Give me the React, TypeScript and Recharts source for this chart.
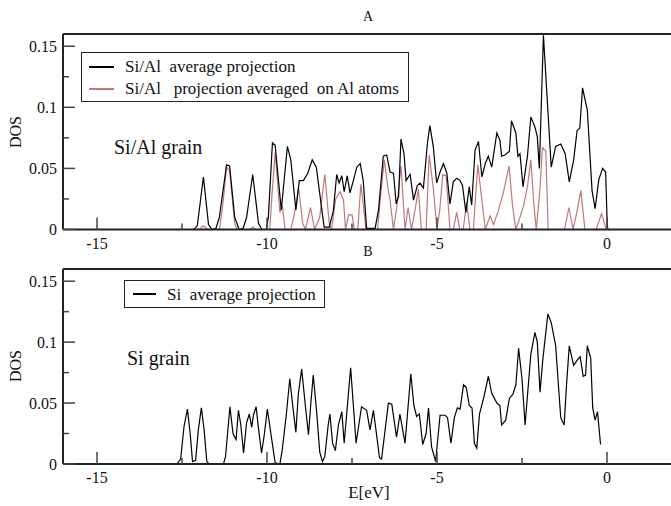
import React from 'react';
import { LineChart, Line, XAxis, YAxis } from 'recharts';

const FONT = '"Liberation Serif", "Times New Roman", serif';
const TICK = '#444';
const FRAME = '#222';
const RED = '#c07878';

const xDomain = [-16, 2];
const yDomain = [0, 0.16];
const xTicks = [-15, -12.5, -10, -7.5, -5, -2.5, 0];
const xLabels = ['-15', '', '-10', '', '-5', '', '0'];
const yTicks = [0, 0.025, 0.05, 0.075, 0.1, 0.125, 0.15];
const yLabels = ['0', '', '0.05', '', '0.1', '', '0.15'];

// [E (eV), DOS]
const siAlAverage: [number, number][] = [
  [-16, 0], [-12.15, 0], [-12.05, 0.003], [-11.87, 0.043], [-11.72, 0.004], [-11.62, 0],
  [-11.5, 0.001], [-11.4, 0.01], [-11.19, 0.053], [-11.1, 0.052], [-10.95, 0.01], [-10.82, 0],
  [-10.7, 0.001], [-10.6, 0.01], [-10.42, 0.045], [-10.25, 0.005], [-10.15, 0], [-10.02, 0],
  [-9.96, 0.01], [-9.84, 0.071], [-9.76, 0.069], [-9.58, 0.016], [-9.4, 0.068], [-9.3, 0.057],
  [-9.15, 0.016], [-9.05, 0.04], [-8.93, 0.04], [-8.8, 0.046], [-8.67, 0.057], [-8.55, 0.051],
  [-8.32, 0.002], [-8.17, 0.002], [-8.05, 0.015], [-7.95, 0.045], [-7.88, 0.038], [-7.8, 0.044],
  [-7.73, 0.031], [-7.64, 0.044], [-7.56, 0.03], [-7.46, 0.04], [-7.36, 0.051], [-7.26, 0.054],
  [-7.17, 0.04], [-7.07, 0.001], [-6.82, 0.001], [-6.72, 0.016], [-6.58, 0.06], [-6.48, 0.061],
  [-6.38, 0.047], [-6.28, 0.046], [-6.2, 0.021], [-6.13, 0.027], [-6.06, 0.074], [-5.97, 0.062],
  [-5.91, 0.04], [-5.79, 0.045], [-5.69, 0.024], [-5.58, 0.036], [-5.5, 0.038], [-5.4, 0.034],
  [-5.28, 0.071], [-5.21, 0.085], [-5.11, 0.068], [-5.01, 0.038], [-4.91, 0.047], [-4.81, 0.054],
  [-4.71, 0.046], [-4.62, 0.021], [-4.52, 0.039], [-4.42, 0.042], [-4.32, 0.04], [-4.25, 0.036],
  [-4.15, 0.014], [-4.05, 0.035], [-3.98, 0.02], [-3.88, 0.065], [-3.78, 0.072], [-3.68, 0.043],
  [-3.58, 0.054], [-3.49, 0.06], [-3.39, 0.051], [-3.24, 0.079], [-3.15, 0.073], [-3.1, 0.06],
  [-3.0, 0.061], [-2.87, 0.064], [-2.81, 0.089], [-2.68, 0.079], [-2.62, 0.06], [-2.56, 0.062],
  [-2.47, 0.035], [-2.34, 0.06], [-2.24, 0.092], [-2.12, 0.084], [-2.05, 0.076], [-1.99, 0.05],
  [-1.87, 0.159], [-1.74, 0.098], [-1.64, 0.051], [-1.51, 0.068], [-1.36, 0.07], [-1.23, 0.062],
  [-1.11, 0.039], [-0.98, 0.057], [-0.88, 0.081], [-0.8, 0.083], [-0.72, 0.116], [-0.58, 0.098],
  [-0.44, 0.032], [-0.35, 0.017], [-0.24, 0.041], [-0.13, 0.05], [-0.04, 0.047], [0.0, 0.01],
  [0.02, 0],
];

const alAtoms: [number, number][] = [
  [-16, 0], [-12.0, 0], [-11.87, 0.003], [-11.75, 0], [-11.4, 0], [-11.3, 0.02], [-11.19, 0.051],
  [-11.1, 0.048], [-10.95, 0.005], [-10.88, 0], [-10.5, 0], [-10.42, 0.002], [-10.33, 0],
  [-9.92, 0], [-9.85, 0.03], [-9.76, 0.063], [-9.62, 0.014], [-9.55, 0.02], [-9.47, 0], [-9.3, 0],
  [-9.2, 0.012], [-9.07, 0.034], [-8.95, 0.005], [-8.87, 0], [-8.72, 0.018], [-8.6, 0],
  [-8.45, 0.01], [-8.3, 0.045], [-8.17, 0.005], [-8.1, 0], [-7.98, 0.025], [-7.85, 0.031],
  [-7.75, 0.024], [-7.69, 0], [-7.6, 0.012], [-7.5, 0.012], [-7.43, 0], [-7.33, 0], [-7.24, 0.037],
  [-7.17, 0.021], [-7.09, 0], [-6.75, 0], [-6.65, 0.03], [-6.55, 0.057], [-6.45, 0.035],
  [-6.38, 0.024], [-6.28, 0], [-6.18, 0.019], [-6.06, 0.052], [-5.94, 0], [-5.85, 0.018],
  [-5.75, 0], [-5.65, 0.015], [-5.55, 0.033], [-5.46, 0], [-5.32, 0], [-5.23, 0.061],
  [-5.11, 0.034], [-5.0, 0], [-4.92, 0.016], [-4.83, 0.045], [-4.73, 0.044], [-4.62, 0],
  [-4.52, 0], [-4.42, 0.014], [-4.33, 0], [-4.23, 0], [-4.13, 0.022], [-4.03, 0], [-3.93, 0],
  [-3.8, 0.053], [-3.68, 0.024], [-3.58, 0], [-3.44, 0.011], [-3.34, 0.004], [-3.2, 0.015],
  [-3.05, 0.03], [-2.88, 0.052], [-2.78, 0.02], [-2.68, 0], [-2.56, 0.01], [-2.45, 0.02],
  [-2.34, 0.035], [-2.24, 0.057], [-2.15, 0.02], [-2.08, 0], [-1.98, 0.03], [-1.9, 0.067],
  [-1.8, 0.064], [-1.73, 0], [-1.25, 0], [-1.12, 0.018], [-1.0, 0], [-0.88, 0.015],
  [-0.77, 0.032], [-0.65, 0], [-0.32, 0], [-0.16, 0.013], [-0.02, 0],
];

const siAverage: [number, number][] = [
  [-16, 0], [-12.65, 0], [-12.54, 0.004], [-12.44, 0.031], [-12.34, 0.045], [-12.26, 0.025],
  [-12.19, 0.002], [-12.1, 0.003], [-12.02, 0.028], [-11.93, 0.046], [-11.85, 0.028],
  [-11.77, 0.002], [-11.7, 0], [-11.28, 0], [-11.22, 0.006], [-11.09, 0.047], [-11.0, 0.025],
  [-10.91, 0.02], [-10.84, 0.044], [-10.77, 0.032], [-10.69, 0.009], [-10.6, 0.034],
  [-10.52, 0.041], [-10.45, 0.03], [-10.4, 0.04], [-10.32, 0.047], [-10.25, 0.029],
  [-10.16, 0.009], [-10.08, 0.024], [-9.99, 0.045], [-9.86, 0.02], [-9.76, 0.001], [-9.62, 0],
  [-9.55, 0.012], [-9.43, 0.041], [-9.33, 0.07], [-9.24, 0.047], [-9.15, 0.026], [-9.08, 0.057],
  [-8.98, 0.078], [-8.88, 0.05], [-8.78, 0.024], [-8.71, 0.05], [-8.64, 0.073], [-8.54, 0.043],
  [-8.45, 0.01], [-8.37, 0.002], [-8.3, 0.006], [-8.2, 0.032], [-8.15, 0.041], [-8.07, 0.017],
  [-7.99, 0.011], [-7.9, 0.032], [-7.8, 0.043], [-7.73, 0.017], [-7.54, 0.079], [-7.38, 0.017],
  [-7.22, 0.047], [-7.07, 0.044], [-6.97, 0.028], [-6.87, 0.044], [-6.69, 0.005], [-6.63, 0.004],
  [-6.43, 0.05], [-6.33, 0.049], [-6.19, 0.022], [-6.09, 0.041], [-5.94, 0.017], [-5.77, 0.074],
  [-5.68, 0.048], [-5.6, 0.039], [-5.52, 0.041], [-5.42, 0.016], [-5.32, 0.025], [-5.25, 0.046],
  [-5.16, 0.014], [-5.04, 0.002], [-4.91, 0.04], [-4.76, 0.04], [-4.69, 0.038], [-4.59, 0.017],
  [-4.49, 0.038], [-4.4, 0.046], [-4.32, 0.045], [-4.22, 0.065], [-4.14, 0.063], [-4.05, 0.048],
  [-3.97, 0.046], [-3.9, 0.017], [-3.83, 0.013], [-3.75, 0.041], [-3.62, 0.055], [-3.49, 0.072],
  [-3.39, 0.058], [-3.24, 0.05], [-3.15, 0.048], [-3.1, 0.032], [-2.98, 0.036], [-2.87, 0.054],
  [-2.77, 0.057], [-2.68, 0.065], [-2.6, 0.095], [-2.5, 0.07], [-2.41, 0.032], [-2.24, 0.09],
  [-2.12, 0.108], [-2.05, 0.1], [-1.97, 0.059], [-1.89, 0.085], [-1.74, 0.123], [-1.64, 0.116],
  [-1.51, 0.097], [-1.43, 0.065], [-1.36, 0.038], [-1.26, 0.032], [-1.19, 0.065], [-1.11, 0.097],
  [-0.98, 0.081], [-0.88, 0.085], [-0.79, 0.088], [-0.7, 0.072], [-0.63, 0.073], [-0.58, 0.097],
  [-0.48, 0.087], [-0.42, 0.046], [-0.35, 0.036], [-0.28, 0.043], [-0.19, 0.016],
];

const toRows = (pts: [number, number][]) => pts.map(([e, dos]) => ({ e, dos }));

const label = (arr: string[], ticks: number[], v: number) => arr[ticks.indexOf(v)] || '';

const BottomTick = (p: any) => {
  const t = label(xLabels, xTicks, p.payload.value);
  const len = t ? 12 : 6;
  return (
    <g>
      <line x1={p.x} x2={p.x} y1={p.y} y2={p.y - len} stroke={TICK} strokeWidth={1.5} />
      {t && (
        <text x={p.x} y={p.y + 19} textAnchor="middle" fontFamily="Liberation Serif" fontSize={16} fill="#111">
          {t}
        </text>
      )}
    </g>
  );
};

const TopTick = (p: any) => {
  const len = label(xLabels, xTicks, p.payload.value) ? 12 : 6;
  return <line x1={p.x} x2={p.x} y1={p.y} y2={p.y + len} stroke={TICK} strokeWidth={1.5} />;
};

const LeftTick = (p: any) => {
  const t = label(yLabels, yTicks, p.payload.value);
  const len = t ? 12 : 6;
  return (
    <g>
      <line x1={p.x} x2={p.x + len} y1={p.y} y2={p.y} stroke={TICK} strokeWidth={1.5} />
      {t && (
        <text x={p.x - 6} y={p.y + 5.5} textAnchor="end" fontFamily="Liberation Serif" fontSize={16} fill="#111">
          {t}
        </text>
      )}
    </g>
  );
};

const RightTick = (p: any) => {
  const len = label(yLabels, yTicks, p.payload.value) ? 12 : 6;
  return <line x1={p.x} x2={p.x - len} y1={p.y} y2={p.y} stroke={TICK} strokeWidth={1.5} />;
};

const axisLine = { stroke: FRAME, strokeWidth: 2 };

// axes need a non-zero size or recharts skips drawing them
function Frame() {
  return [
    <XAxis key="xb" xAxisId={0} type="number" dataKey="e" domain={xDomain} ticks={xTicks} interval={0}
      height={1} tickSize={0} tickMargin={0} tickLine={false} axisLine={axisLine} tick={BottomTick} />,
    <XAxis key="xt" xAxisId="top" orientation="top" type="number" dataKey="e" domain={xDomain} ticks={xTicks}
      interval={0} height={1} tickSize={0} tickMargin={0} tickLine={false} axisLine={axisLine} tick={TopTick} />,
    <YAxis key="yl" yAxisId={0} type="number" domain={yDomain} ticks={yTicks} interval={0} width={1}
      tickSize={0} tickMargin={0} tickLine={false} axisLine={axisLine} tick={LeftTick} />,
    <YAxis key="yr" yAxisId="right" orientation="right" type="number" domain={yDomain} ticks={yTicks}
      interval={0} width={1} tickSize={0} tickMargin={0} tickLine={false} axisLine={axisLine} tick={RightTick} />,
  ];
}

const txt = (extra: React.CSSProperties): React.CSSProperties => ({
  position: 'absolute',
  fontFamily: FONT,
  color: '#111',
  whiteSpace: 'nowrap',
  lineHeight: 1,
  ...extra,
});

export default function App() {
  return (
    <div style={{ position: 'absolute', left: 0, top: 0, width: 671, height: 506, overflow: 'hidden', background: '#fff', fontFamily: FONT }}>
      <div style={{ position: 'absolute', left: 0, top: 0 }}>
        <LineChart width={680} height={260} margin={{ top: 33, right: 4, bottom: 29.5, left: 62 }}>
          {Frame()}
          <Line data={toRows(alAtoms)} dataKey="dos" type="linear" stroke={RED} strokeWidth={1.2}
            dot={false} isAnimationActive={false} />
          <Line data={toRows(siAlAverage)} dataKey="dos" type="linear" stroke="#000" strokeWidth={1.2}
            dot={false} isAnimationActive={false} />
        </LineChart>
      </div>
      <div style={{ position: 'absolute', left: 0, top: 245 }}>
        <LineChart width={680} height={261} margin={{ top: 23, right: 4, bottom: 41, left: 62 }}>
          {Frame()}
          <Line data={toRows(siAverage)} dataKey="dos" type="linear" stroke="#000" strokeWidth={1.2}
            dot={false} isAnimationActive={false} />
        </LineChart>
      </div>

      <div style={txt({ left: 368, top: 10, fontSize: 14, transform: 'translateX(-50%)' })}>A</div>
      <div style={txt({ left: 368, top: 245, fontSize: 14, transform: 'translateX(-50%)' })}>B</div>
      <div style={txt({ left: 369, top: 484, fontSize: 17, transform: 'translateX(-50%)' })}>E[eV]</div>
      <div style={txt({ left: 16, top: 132, fontSize: 16, transform: 'translate(-50%, -50%) rotate(-90deg)' })}>DOS</div>
      <div style={txt({ left: 16, top: 366, fontSize: 16, transform: 'translate(-50%, -50%) rotate(-90deg)' })}>DOS</div>

      <div style={txt({ left: 114, top: 137, fontSize: 20 })}>Si/Al grain</div>
      <div style={txt({ left: 127, top: 348, fontSize: 20 })}>Si grain</div>

      <div style={{ position: 'absolute', left: 81, top: 52, width: 328, height: 50, border: '1.5px solid #222', boxSizing: 'border-box', background: '#fff' }}>
        <div style={{ position: 'absolute', left: 7, top: 13, width: 25, height: 1.5, background: '#000' }} />
        <div style={txt({ left: 43, top: 5, fontSize: 17 })}>Si/Al&nbsp;&nbsp;average projection</div>
        <div style={{ position: 'absolute', left: 7, top: 35, width: 25, height: 1.5, background: RED }} />
        <div style={txt({ left: 43, top: 27, fontSize: 17 })}>Si/Al&nbsp;&nbsp; projection averaged&nbsp; on Al atoms</div>
      </div>

      <div style={{ position: 'absolute', left: 124, top: 280, width: 201, height: 28, border: '1.5px solid #222', boxSizing: 'border-box', background: '#fff' }}>
        <div style={{ position: 'absolute', left: 8, top: 12, width: 23, height: 1.5, background: '#000' }} />
        <div style={txt({ left: 42, top: 5, fontSize: 17 })}>Si&nbsp; average projection</div>
      </div>
    </div>
  );
}
